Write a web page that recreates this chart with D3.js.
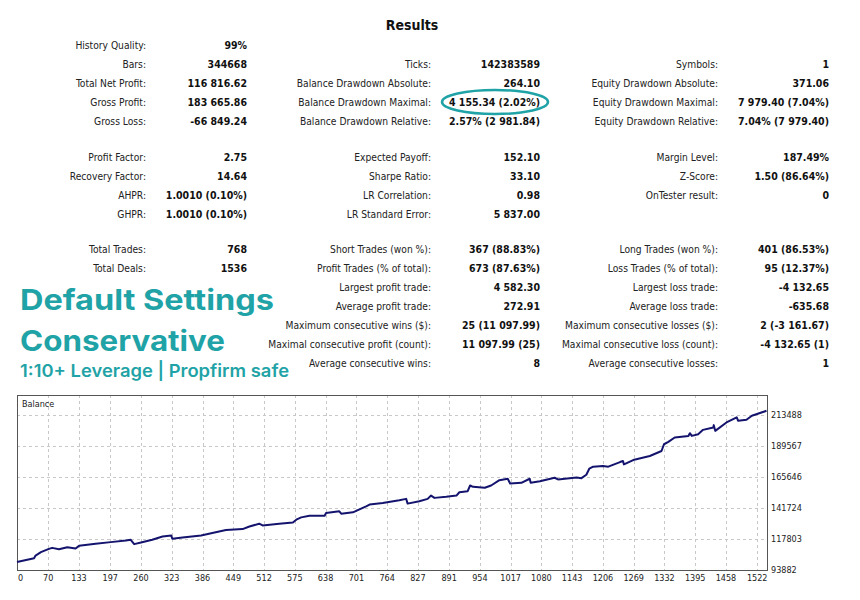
<!DOCTYPE html>
<html>
<head>
<meta charset="utf-8">
<script src="https://cdn.jsdelivr.net/npm/d3@7"></script>
<style>
  body { margin: 0; background: #fff; }
  svg { display: block; }
</style>
</head>
<body>
<svg id="chart" width="860" height="600"></svg>
<script>
// ---------- DATA ----------
const title = "Results";

const col1Labels = ["History Quality:", "Bars:", "Total Net Profit:", "Gross Profit:", "Gross Loss:",
  "Profit Factor:", "Recovery Factor:", "AHPR:", "GHPR:", "Total Trades:", "Total Deals:"];
const col1Values = ["99%", "344668", "116 816.62", "183 665.86", "-66 849.24",
  "2.75", "14.64", "1.0010 (0.10%)", "1.0010 (0.10%)", "768", "1536"];
const col1Rows = [0, 1, 2, 3, 4, 6, 7, 8, 9, 11, 12];

const col2Labels = ["Ticks:", "Balance Drawdown Absolute:", "Balance Drawdown Maximal:", "Balance Drawdown Relative:",
  "Expected Payoff:", "Sharpe Ratio:", "LR Correlation:", "LR Standard Error:",
  "Short Trades (won %):", "Profit Trades (% of total):", "Largest profit trade:", "Average profit trade:",
  "Maximum consecutive wins ($):", "Maximal consecutive profit (count):", "Average consecutive wins:"];
const col2Values = ["142383589", "264.10", "4 155.34 (2.02%)", "2.57% (2 981.84)",
  "152.10", "33.10", "0.98", "5 837.00",
  "367 (88.83%)", "673 (87.63%)", "4 582.30", "272.91",
  "25 (11 097.99)", "11 097.99 (25)", "8"];
const col2Rows = [1, 2, 3, 4, 6, 7, 8, 9, 11, 12, 13, 14, 15, 16, 17];

const col3Labels = ["Symbols:", "Equity Drawdown Absolute:", "Equity Drawdown Maximal:", "Equity Drawdown Relative:",
  "Margin Level:", "Z-Score:", "OnTester result:",
  "Long Trades (won %):", "Loss Trades (% of total):", "Largest loss trade:", "Average loss trade:",
  "Maximum consecutive losses ($):", "Maximal consecutive loss (count):", "Average consecutive losses:"];
const col3Values = ["1", "371.06", "7 979.40 (7.04%)", "7.04% (7 979.40)",
  "187.49%", "1.50 (86.64%)", "0",
  "401 (86.53%)", "95 (12.37%)", "-4 132.65", "-635.68",
  "2 (-3 161.67)", "-4 132.65 (1)", "1"];
const col3Rows = [1, 2, 3, 4, 6, 7, 8, 11, 12, 13, 14, 15, 16, 17];

const highlightText = "4 155.34 (2.02%)";

const overlayLines = ["Default Settings", "Conservative", "1:10+ Leverage | Propfirm safe"];

const seriesName = "Balance";
const xTickValues = [0, 70, 133, 197, 260, 323, 386, 449, 512, 575, 638, 701, 764, 827, 891, 954,
  1017, 1080, 1143, 1206, 1269, 1332, 1395, 1458, 1522];
const yTickValues = [93882, 117803, 141724, 165646, 189567, 213488];

const deals = [6, 41, 44, 55, 70, 78, 92, 109, 126, 133, 167, 198, 229, 239, 246, 260, 283, 304, 322, 324,
  345, 383, 406, 434, 468, 482, 502, 509, 543, 571, 578, 588, 605, 636, 639, 666, 670, 694, 721, 728,
  755, 789, 803, 806, 830, 847, 854, 861, 885, 906, 912, 929, 934, 940, 964, 977, 994, 1011, 1016, 1039,
  1056, 1058, 1077, 1107, 1114, 1152, 1162, 1172, 1178, 1186, 1206, 1217, 1241, 1247, 1249, 1268, 1302, 1326, 1331, 1340,
  1353, 1381, 1384, 1388, 1401, 1411, 1432, 1433, 1436, 1459, 1480, 1483, 1500, 1511, 1541];
const balance = [100000, 102970, 104990, 107630, 109960, 110970, 109960, 111510, 110430, 112520, 114080, 115400, 116640, 117180, 113840, 115090, 117180, 119750, 120520, 117960,
  118970, 120520, 122390, 124720, 125490, 127510, 129610, 128290, 129610, 130620, 132720, 134500, 135820, 135820, 137920, 139160, 137380, 138390, 143050, 144370,
  145690, 147710, 148800, 145140, 146930, 148800, 151360, 149570, 150350, 151360, 153920, 154700, 159130, 158120, 157340, 159130, 163240, 164330, 160680, 161220,
  164330, 161220, 162470, 165110, 163790, 165340, 164800, 167440, 172100, 173650, 174120, 173650, 177220, 178000, 175440, 178780, 181880, 185770, 190970, 192760,
  196170, 197420, 199510, 197420, 198740, 202080, 203940, 205730, 201300, 207820, 211710, 209070, 209840, 212950, 216817];

// ---------- DRAW ----------
const svg = d3.select("#chart");
const teal = "#1fa3a6";
const tableFont = "'DejaVu Sans Condensed', 'Liberation Sans', sans-serif";

svg.append("text")
  .attr("x", 412).attr("y", 30)
  .attr("text-anchor", "middle")
  .attr("font-family", tableFont)
  .attr("font-weight", "bold")
  .attr("font-size", 14)
  .attr("fill", "#111")
  .text(title);

const rowY = d3.scaleLinear().domain([0, 1]).range([49, 68]);
function yOfRow(r) {
  let yy = rowY(r);
  if (r >= 6) yy -= 2;
  if (r >= 11) yy -= 3;
  return yy;
}

function drawColumn(labels, values, rows, labelRight, valueRight) {
  const g = svg.append("g");
  g.selectAll("text.lab").data(labels).join("text")
    .attr("class", "lab")
    .attr("x", labelRight)
    .attr("y", (d, i) => yOfRow(rows[i]))
    .attr("text-anchor", "end")
    .attr("font-family", tableFont)
    .attr("font-size", 10.2)
    .attr("fill", "#222")
    .text(d => d);
  g.selectAll("text.val").data(values).join("text")
    .attr("class", "val")
    .attr("x", valueRight)
    .attr("y", (d, i) => yOfRow(rows[i]))
    .attr("text-anchor", "end")
    .attr("font-family", tableFont)
    .attr("font-weight", "bold")
    .attr("font-size", 10.5)
    .attr("fill", "#111")
    .text(d => d);
}
drawColumn(col1Labels, col1Values, col1Rows, 146, 247);
drawColumn(col2Labels, col2Values, col2Rows, 431, 540);
drawColumn(col3Labels, col3Values, col3Rows, 718, 829);

const hiIdx = col2Values.indexOf(highlightText);
svg.append("ellipse")
  .attr("cx", 495).attr("cy", yOfRow(col2Rows[hiIdx]) - 4)
  .attr("rx", 53).attr("ry", 12)
  .attr("fill", "none")
  .attr("stroke", teal)
  .attr("stroke-width", 2.5);

const overlaySizes = [28.5, 28.5, 17.5];
const overlayY = [310, 351, 377];
const overlayWidths = [254, 205, 269];
svg.selectAll("text.ov").data(overlayLines).join("text")
  .attr("class", "ov")
  .attr("x", 20)
  .attr("y", (d, i) => overlayY[i])
  .attr("font-family", "Inter, 'Noto Sans', sans-serif")
  .attr("font-weight", (d, i) => i < 2 ? 700 : 600)
  .attr("font-size", (d, i) => overlaySizes[i])
  .attr("textLength", (d, i) => overlayWidths[i])
  .attr("lengthAdjust", "spacingAndGlyphs")
  .attr("fill", teal)
  .text(d => d);

// ---------- BALANCE CHART ----------
const pL = 17, pR = 767, pT = 395, pB = 570;
const x = d3.scaleLinear().domain([6, 1542]).range([pL, pR]).clamp(true);
const y = d3.scaleLinear().domain([93882, 229000]).range([pB, pT]);

const chart = svg.append("g");

chart.append("g").selectAll("line").data(xTickValues.filter(v => v > 6)).join("line")
  .attr("x1", d => Math.round(x(d)) + 0.5).attr("x2", d => Math.round(x(d)) + 0.5)
  .attr("y1", pT).attr("y2", pB)
  .attr("stroke", "#c8c8c8").attr("stroke-dasharray", "3,3").attr("stroke-width", 1);
chart.append("g").selectAll("line").data(yTickValues.slice(1)).join("line")
  .attr("x1", pL).attr("x2", pR)
  .attr("y1", d => Math.round(y(d)) + 0.5).attr("y2", d => Math.round(y(d)) + 0.5)
  .attr("stroke", "#c8c8c8").attr("stroke-dasharray", "3,3").attr("stroke-width", 1);

chart.append("rect")
  .attr("x", pL + 0.5).attr("y", pT + 0.5)
  .attr("width", pR - pL).attr("height", pB - pT)
  .attr("fill", "none").attr("stroke", "#555").attr("stroke-width", 1);

chart.append("text")
  .attr("x", pL + 5).attr("y", pT + 12)
  .attr("font-family", tableFont)
  .attr("font-size", 9)
  .attr("fill", "#222")
  .text(seriesName);

const pts = deals.map((d, i) => [d, balance[i]]);
chart.append("path")
  .datum(pts)
  .attr("fill", "none")
  .attr("stroke", "#14146e")
  .attr("stroke-width", 2)
  .attr("stroke-linejoin", "round")
  .attr("d", d3.line().x(d => x(d[0])).y(d => y(d[1])));

chart.append("g").selectAll("text").data(xTickValues).join("text")
  .attr("x", d => d <= 6 ? x(d) + 1 : x(d))
  .attr("y", pB + 11)
  .attr("text-anchor", d => d <= 6 ? "start" : "middle")
  .attr("font-family", tableFont)
  .attr("font-size", 9)
  .attr("fill", "#222")
  .text(d => d);

chart.append("g").selectAll("text").data(yTickValues).join("text")
  .attr("x", pR + 4)
  .attr("y", d => y(d) + 3)
  .attr("font-family", tableFont)
  .attr("font-size", 9)
  .attr("fill", "#222")
  .text(d => d);
</script>
</body>
</html>
